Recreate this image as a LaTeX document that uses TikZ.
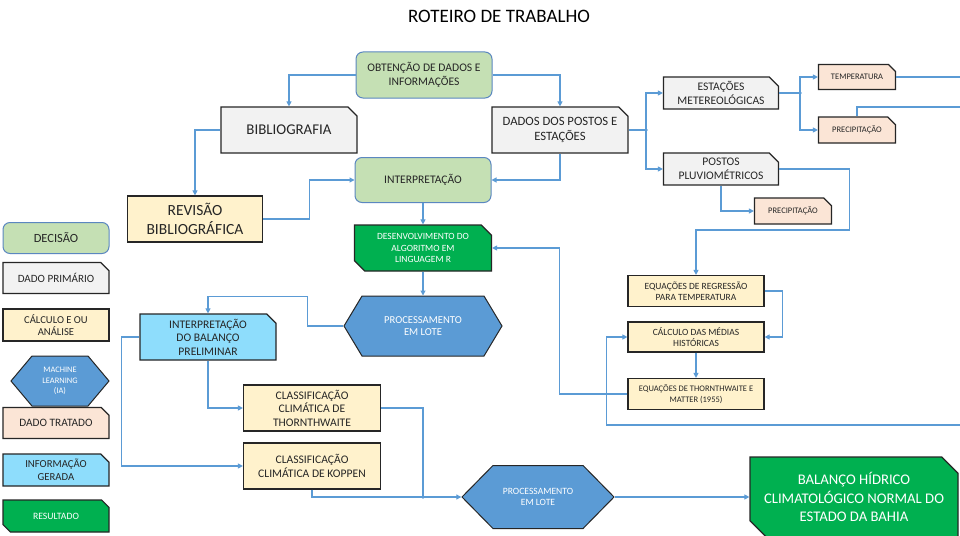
\documentclass[tikz,border=0pt]{standalone}
\usepackage{fontspec}
\setmainfont{Carlito}
\usepackage{tikz}
\usetikzlibrary{arrows.meta,shapes.misc,shapes.symbols}
\usepackage{xcolor}

\definecolor{linkblue}{HTML}{5B9BD5}
\definecolor{decline}{HTML}{5B87C0}
\definecolor{decfill}{HTML}{C5E0B4}
\definecolor{primfill}{HTML}{F2F2F2}
\definecolor{calcfill}{HTML}{FFF2CC}
\definecolor{iafill}{HTML}{5B9BD5}
\definecolor{tratfill}{HTML}{FBE5D6}
\definecolor{gerfill}{HTML}{8EDDFC}
\definecolor{resfill}{HTML}{00B050}
\definecolor{boxline}{HTML}{262626}

\newcommand{\fsz}[2]{\fontsize{#1}{#2}\selectfont}

\tikzset{
  caixa/.style={align=center,inner sep=1pt,line width=1.2pt,draw=boxline,text=boxline},
  tam/.style 2 args={minimum width=#1pt,minimum height=#2pt},
  corte/.style={chamfered rectangle,chamfered rectangle corners=north east,chamfered rectangle xsep=#1},
  corte/.default=6pt,
  decisao/.style={caixa,rectangle,rounded corners=7pt,fill=decfill,draw=decline,line width=1pt},
  primario/.style={caixa,corte,fill=primfill},
  calculo/.style={caixa,rectangle,fill=calcfill},
  ia/.style={caixa,signal,signal to=west and east,signal pointer angle=#1,fill=iafill,text=white,line width=1pt},
  tratado/.style={caixa,corte=4.5pt,fill=tratfill},
  gerada/.style={caixa,corte,fill=gerfill},
  resultado/.style={caixa,chamfered rectangle,chamfered rectangle corners={north east,south west},
    chamfered rectangle xsep=#1,fill=resfill,text=white},
  resultado/.default=7pt,
  linha/.style={draw=linkblue,line width=1.1pt},
  conector/.style={linha,-{Triangle[length=5pt,width=5pt]}},
  ponto/.style={fill=linkblue}
}

\begin{document}
\begin{tikzpicture}[x=1pt,y=-1pt]
    \useasboundingbox[fill=white] (0,0) rectangle (960,535);
    \node(titulo)[font=\fsz{19}{22}] at (499,16) {ROTEIRO DE TRABALHO};
    % fluxo principal
    \node(obt)[decisao,tam={136}{46},font=\fsz{11.6}{14}] at (424,75) {OBTENÇÃO DE DADOS E\\INFORMAÇÕES};
    \node(bib)[primario,tam={136}{46},font=\fsz{14.9}{18}] at (289,130) {BIBLIOGRAFIA};
    \node(dados)[primario,tam={136}{46},font=\fsz{12.7}{15.5}] at (560,130) {DADOS DOS POSTOS E\\ESTAÇÕES};
    \node(interp)[decisao,tam={136}{45},font=\fsz{11.6}{14}] at (423,180) {INTERPRETAÇÃO};
    \node(rev)[calculo,tam={135}{46},font=\fsz{15.5}{19}] at (195,219) {REVISÃO\\BIBLIOGRÁFICA};
    \node(alg)[resultado,tam={137}{46},font=\fsz{9.5}{11.7}] at (423,248) {DESENVOLVIMENTO DO\\ALGORITMO EM\\LINGUAGEM R};
    \node(lote)[ia=118,tam={158}{60},font=\fsz{10.6}{12.7}] at (423,326) {PROCESSAMENTO\\EM LOTE};
    % estacoes e postos
    \node(est)[primario,tam={115}{32},font=\fsz{11.6}{14}] at (721,93) {ESTAÇÕES\\METEREOLÓGICAS};
    \node(pluv)[primario,tam={115}{32},font=\fsz{11.6}{14}] at (721,169) {POSTOS\\PLUVIOMÉTRICOS};
    \node(temp)[tratado,tam={77}{25},font=\fsz{8.5}{10}] at (857,77) {TEMPERATURA};
    \node(prec1)[tratado,tam={77}{26},font=\fsz{8.5}{10}] at (857,130) {PRECIPITAÇÃO};
    \node(prec2)[tratado,tam={77}{26},font=\fsz{8.5}{10}] at (793,211) {PRECIPITAÇÃO};
    \node(regr)[calculo,tam={136}{31},font=\fsz{9.5}{11.3}] at (696,291) {EQUAÇÕES DE REGRESSÃO\\PARA TEMPERATURA};
    \node(medias)[calculo,tam={136}{30},font=\fsz{9.5}{11.3}] at (696,337) {CÁLCULO DAS MÉDIAS\\HISTÓRICAS};
    \node(thorn)[calculo,tam={136}{31},font=\fsz{8.5}{10.5}] at (696,394) {EQUAÇÕES DE THORNTHWAITE E\\MATTER (1955)};
    % balanco e classificacao
    \node(balp)[gerada,tam={136}{46},font=\fsz{11.6}{13.5}] at (208,337) {INTERPRETAÇÃO\\DO BALANÇO\\PRELIMINAR};
    \node(ctw)[calculo,tam={137}{46},font=\fsz{11.6}{13.5}] at (312,408) {CLASSIFICAÇÃO\\CLIMÁTICA DE\\THORNTHWAITE};
    \node(kop)[calculo,tam={137}{46},font=\fsz{11.6}{14}] at (312,466) {CLASSIFICAÇÃO\\CLIMÁTICA DE KOPPEN};
    \node(lote2)[ia=91,tam={152}{63},font=\fsz{9.6}{11.5}] at (538,497) {PROCESSAMENTO\\EM LOTE};
    \node(bal)[resultado=13pt,tam={206}{80},font=\fsz{14.7}{18.5}] at (854,497) {BALANÇO HÍDRICO\\CLIMATOLÓGICO NORMAL DO\\ESTADO DA BAHIA};
    % legenda
    \node(lg1)[decisao,tam={106}{31},font=\fsz{12.5}{15}] at (56,238) {DECISÃO};
    \node(lg2)[primario,corte=5pt,tam={106}{31},font=\fsz{11.1}{13}] at (56,278) {DADO PRIMÁRIO};
    \node(lg3)[calculo,tam={106}{32},font=\fsz{10.6}{12.5}] at (56,325) {CÁLCULO E OU\\ANÁLISE};
    \node(lg4)[ia=100,tam={98}{50},font=\fsz{8.4}{10.5}] at (60,381) {MACHINE\\LEARNING\\(IA)};
    \node(lg5)[tratado,tam={106}{31},font=\fsz{11.3}{13}] at (56,423) {DADO TRATADO};
    \node(lg6)[gerada,corte=5pt,tam={106}{32},font=\fsz{10.7}{12.5}] at (56,470) {INFORMAÇÃO\\GERADA};
    \node(lg7)[resultado=5pt,tam={106}{32},font=\fsz{9.7}{11}] at (56,516) {RESULTADO};
    % pontos de ligacao
    \coordinate(j1) at (646,130);
    \coordinate(j2) at (800,93);
    \coordinate(j3) at (423,497);
    \coordinate(saidaT) at (960,77);
    \coordinate(saidaP) at (960,107);
    \coordinate(entra) at (960,425);
    % conectores
    \draw[conector] (obt.west) -| (bib.north);
    \draw[conector] (obt.east) -| (dados.north);
    \draw[conector] (bib.west) -| (rev.north);
    \draw[conector] (rev.east) -- ++(46,0) |- (interp.west);
    \draw[conector] (dados.south) |- (interp.east);
    \draw[conector] (interp.south) -- (alg.north);
    \draw[conector] (alg.south) -- (lote.north);
    \draw[conector] (lote.west) -- ++(-36,0) |- ([yshift=17pt]balp.north) -- (balp.north);
    \draw[linha] (dados.east) -- (j1);
    \draw[conector] (j1) |- (est.west);
    \draw[conector] (j1) |- (pluv.west);
    \draw[linha] (est.east) -- (j2);
    \draw[conector] (j2) |- (temp.west);
    \draw[conector] (j2) |- (prec1.west);
    \draw[conector] (pluv.south) |- (prec2.west);
    \draw[conector] (pluv.east) -| ++(70,61) -| (regr.north);
    \draw[linha] (temp.east) -- (saidaT);
    \draw[linha] (prec1.north) |- (saidaP);
    \draw[conector] (regr.east) -- ++(18,0) |- (medias.east);
    \draw[conector] (medias.south) -- (thorn.north);
    \draw[conector] (entra) -| ([xshift=-21pt]medias.west) -- (medias.west);
    \draw[conector] (thorn.west) -- ++(-68,0) |- (alg.east);
    \draw[conector] (balp.south) |- (ctw.west);
    \draw[conector] (balp.west) -- ++(-18,0) |- (kop.west);
    \draw[linha] (ctw.east) -| (j3);
    \draw[conector] (kop.south) |- (lote2.west);
    \draw[conector] (lote2.east) -- (bal.west);
    \foreach \j in {j1,j2,j3} \fill[ponto] (\j) circle (1.8pt);
\end{tikzpicture}
\end{document}
